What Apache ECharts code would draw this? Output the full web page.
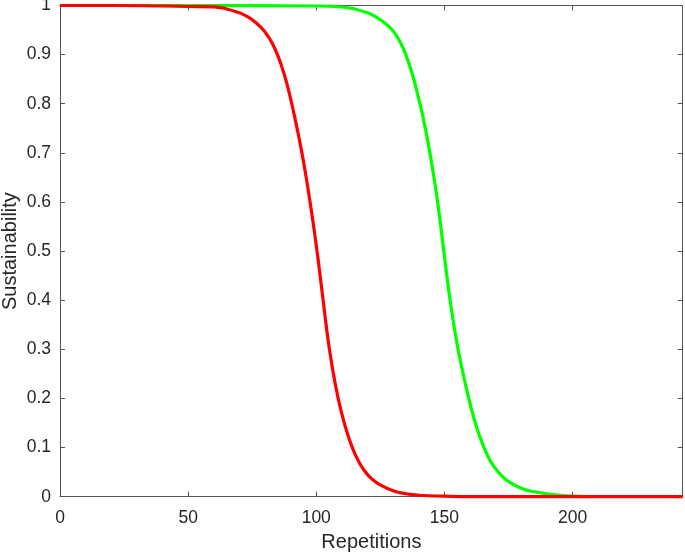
<!DOCTYPE html>
<html>
<head>
<meta charset="utf-8">
<script src="https://cdn.jsdelivr.net/npm/echarts@6/dist/echarts.min.js"></script>
<style>html,body{margin:0;padding:0;background:#fff;}#c{width:685px;height:556px;}</style>
</head>
<body>
<div id="c"></div>
<script>
var xTicks = [0, 50, 100, 150, 200];
var yTicks = [0, 0.1, 0.2, 0.3, 0.4, 0.5, 0.6, 0.7, 0.8, 0.9, 1];

var redX = [0, 20, 40, 50, 60, 65, 70, 72.5, 75, 77.5, 80, 82.5, 85, 87.5, 90, 92.5, 95, 97.5, 100, 102.5, 105, 107.5, 110, 112.5, 115, 117.5, 120, 122.5, 125, 130, 135, 140, 150, 160, 200, 243];
var redY = [1, 1, 0.999, 0.998, 0.997, 0.993, 0.985, 0.979, 0.971, 0.960, 0.946, 0.926, 0.898, 0.860, 0.810, 0.750, 0.683, 0.603, 0.512, 0.408, 0.305, 0.227, 0.168, 0.123, 0.088, 0.063, 0.045, 0.033, 0.024, 0.012, 0.006, 0.003, 0.001, 0, 0, 0];

var greenX = [0, 50, 100, 110, 115, 120, 122.5, 125, 127.5, 130, 132.5, 135, 137.5, 140, 142.5, 145, 147.5, 150, 152.5, 155, 157.5, 160, 162.5, 165, 167.5, 170, 172.5, 175, 180, 185, 190, 195, 200, 205];
var greenY = [1, 1, 0.999, 0.997, 0.993, 0.985, 0.979, 0.971, 0.961, 0.948, 0.928, 0.899, 0.860, 0.810, 0.752, 0.680, 0.595, 0.490, 0.390, 0.310, 0.246, 0.190, 0.143, 0.106, 0.077, 0.057, 0.042, 0.031, 0.017, 0.010, 0.006, 0.003, 0.001, 0];

function pairs(xs, ys) { return xs.map(function (x, i) { return [x, ys[i]]; }); }

var axisCol = '#555555';
var textCol = '#262626';
var font = 'Liberation Sans, Arial, Helvetica, sans-serif';

var chart = echarts.init(document.getElementById('c'), null, {renderer: 'canvas'});
chart.setOption({
  animation: false,
  backgroundColor: '#ffffff',
  grid: {left: 60, top: 5.5, right: 2.3, bottom: 59.3, containLabel: false, outerBoundsMode: 'none'},
  xAxis: [{
    type: 'value', min: 0, max: 243, interval: 50,
    name: 'Repetitions', nameLocation: 'middle', nameGap: 36, nameMoveOverlap: false,
    nameTextStyle: {fontSize: 20, color: textCol, fontFamily: font},
    axisLine: {show: true, onZero: false, lineStyle: {color: axisCol, width: 1}},
    axisTick: {show: true, inside: true, length: 5, lineStyle: {color: axisCol}},
    axisLabel: {fontSize: 17.5, color: textCol, fontFamily: font, margin: 12, showMaxLabel: false,
      formatter: function (v) { return xTicks.indexOf(v) >= 0 ? String(v) : ''; }},
    splitLine: {show: false}
  }, {
    type: 'value', min: 0, max: 243, interval: 50, position: 'top',
    axisLine: {show: true, onZero: false, lineStyle: {color: axisCol, width: 1}},
    axisTick: {show: true, inside: true, length: 5, lineStyle: {color: axisCol}},
    axisLabel: {show: false}, splitLine: {show: false}
  }],
  yAxis: [{
    type: 'value', min: 0, max: 1, interval: 0.1,
    name: 'Sustainability', nameLocation: 'middle', nameGap: 40, nameMoveOverlap: false,
    nameTextStyle: {fontSize: 20, color: textCol, fontFamily: font},
    axisLine: {show: true, onZero: false, lineStyle: {color: axisCol, width: 1}},
    axisTick: {show: true, inside: true, length: 5, lineStyle: {color: axisCol}},
    axisLabel: {fontSize: 17.5, color: textCol, fontFamily: font, margin: 9,
      formatter: function (v) { var r = Math.round(v * 10) / 10; return yTicks.indexOf(r) >= 0 ? String(r) : ''; }},
    splitLine: {show: false}
  }, {
    type: 'value', min: 0, max: 1, interval: 0.1, position: 'right',
    axisLine: {show: true, onZero: false, lineStyle: {color: axisCol, width: 1}},
    axisTick: {show: true, inside: true, length: 5, lineStyle: {color: axisCol}},
    axisLabel: {show: false}, splitLine: {show: false}
  }],
  series: [{
    type: 'line', data: pairs(greenX, greenY), showSymbol: false, symbol: 'none',
    smooth: 0.5, clip: false,
    lineStyle: {color: '#00ff00', width: 3.2}, z: 2
  }, {
    type: 'line', data: pairs(redX, redY), showSymbol: false, symbol: 'none',
    smooth: 0.5, clip: false,
    lineStyle: {color: '#ff0000', width: 3.2}, z: 3
  }]
});
</script>
</body>
</html>
